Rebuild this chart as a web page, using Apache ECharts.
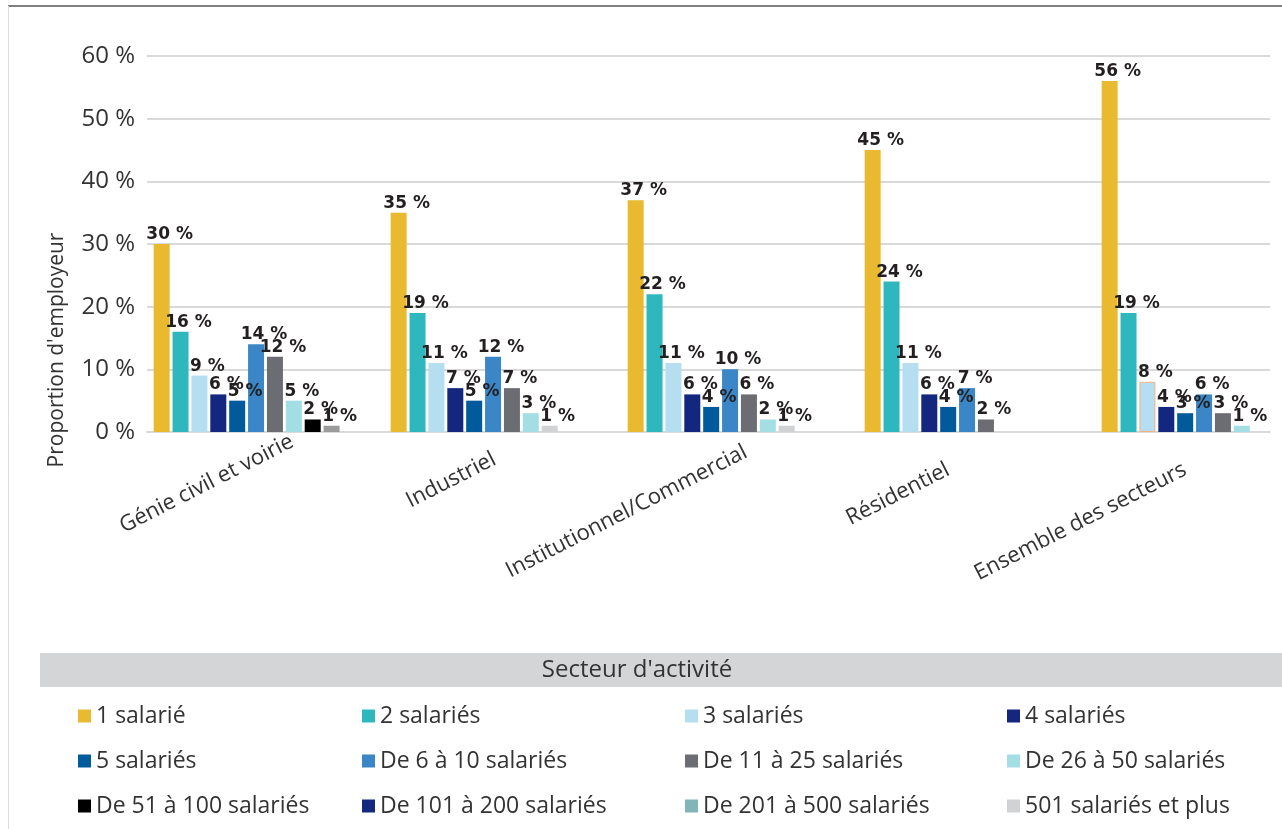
<!DOCTYPE html>
<html>
<head>
<meta charset="utf-8">
<script src="https://cdn.jsdelivr.net/npm/echarts@6/dist/echarts.min.js"></script>
<style>
  html, body { margin: 0; padding: 0; background: #ffffff; }
  #chart { width: 1282px; height: 829px; }
</style>
</head>
<body>
<div id="chart"></div>
<script>
// ---- Data ----
const categories = ['Génie civil et voirie', 'Industriel', 'Institutionnel/Commercial', 'Résidentiel', 'Ensemble des secteurs'];
const seriesNames = ['1 salarié', '2 salariés', '3 salariés', '4 salariés', '5 salariés', 'De 6 à 10 salariés',
  'De 11 à 25 salariés', 'De 26 à 50 salariés', 'De 51 à 100 salariés', 'De 101 à 200 salariés',
  'De 201 à 500 salariés', '501 salariés et plus'];
const sal1 = [30, 35, 37, 45, 56];
const sal2 = [16, 19, 22, 24, 19];
const sal3 = [9, 11, 11, 11, 8];
const sal4 = [6, 7, 6, 6, 4];
const sal5 = [5, 5, 4, 4, 3];
const sal6to10 = [14, 12, 10, 7, 6];
const sal11to25 = [12, 7, 6, 2, 3];
const sal26to50 = [5, 3, 2, null, 1];
const sal51to100 = [2, null, null, null, null];
const sal101to200 = [null, null, null, null, null];
const sal201to500 = [null, null, null, null, null];
const sal501plus = [1, 1, 1, null, null];
const yTickValues = [0, 10, 20, 30, 40, 50, 60];

const allSeries = [sal1, sal2, sal3, sal4, sal5, sal6to10, sal11to25, sal26to50, sal51to100, sal101to200, sal201to500, sal501plus];

// ---- Styles ----
const colors = ['#E9B92F', '#2EB8BE', '#B5DFF0', '#13277E', '#005A9C', '#3B86C6',
  '#6B6D72', '#A2DEE4', '#000000', '#14287F', '#82B5BA', '#D1D2D4'];
// point-specific style tweaks seen in the picture: [seriesIndex, categoryIndex, itemStyle]
const pointStyles = [
  [11, 0, { color: '#9B9B9B' }],
  [2, 4, { borderColor: '#F4B183', borderWidth: 1 }]
];
// per-label nudge (text padding) for the rotated category labels
const catLabelPadding = [[20, -30, 0, 0], [0, 9, 0, 0], [0, -7, 0, 0], [0, 32, 0, 0], [0, 32, 0, 0]];

function styleFor(s, c) {
  let st = { color: colors[s] };
  pointStyles.forEach(p => { if (p[0] === s && p[1] === c) st = Object.assign(st, p[2]); });
  return st;
}

// Bars are packed inside each category (missing classes leave no hole)
const nSlots = seriesNames.length;
const slotData = [];
for (let k = 0; k < nSlots; k++) slotData.push(categories.map(() => null));
categories.forEach((cat, c) => {
  let k = 0;
  allSeries.forEach((arr, s) => {
    if (arr[c] !== null && arr[c] !== undefined) {
      slotData[k][c] = { value: arr[c], itemStyle: styleFor(s, c) };
      k++;
    }
  });
});

const font = 'Open Sans';
const txt = '#333333';

const barSeries = slotData.map((d, k) => ({
  type: 'bar',
  name: 'slot' + k,
  xAxisIndex: 0,
  yAxisIndex: 0,
  data: d,
  barWidth: 16,
  barGap: '18%',
  silent: true,
  label: {
    show: true,
    position: 'top',
    distance: 1,
    offset: [8, 0],
    formatter: p => p.value + ' %',
    fontFamily: 'DejaVu Sans',
    fontWeight: 'bold',
    fontSize: 17,
    color: '#231F20'
  }
}));

const legendSeries = seriesNames.map((n, s) => ({
  type: 'bar',
  name: n,
  xAxisIndex: 1,
  yAxisIndex: 1,
  data: [],
  itemStyle: { color: colors[s] }
}));

const legendCols = [73, 357, 680, 1002];
const legends = legendCols.map((x, col) => ({
  orient: 'vertical',
  left: x,
  top: 699,
  selectedMode: false,
  icon: 'rect',
  itemWidth: 13,
  itemHeight: 13,
  itemGap: 21,
  data: [seriesNames[col], seriesNames[col + 4], seriesNames[col + 8]],
  textStyle: { fontFamily: font, fontSize: 23, color: txt, lineHeight: 24 }
}));

const chart = echarts.init(document.getElementById('chart'), null, { renderer: 'canvas' });
chart.setOption({
  animation: false,
  backgroundColor: '#ffffff',
  grid: [
    { left: 147, top: 56, width: 1185, height: 376, containLabel: false, outerBoundsMode: 'none' },
    { left: 147, top: 56, right: 12, height: 376, containLabel: false, outerBoundsMode: 'none' }
  ],
  xAxis: [
    {
      type: 'category', gridIndex: 0,
      data: categories.map((c, i) => ({ value: c, textStyle: { padding: catLabelPadding[i] } })),
      axisLine: { show: false }, axisTick: { show: false },
      axisLabel: { rotate: 27, margin: 22, fontFamily: font, fontSize: 22, color: txt, interval: 0 }
    },
    {
      type: 'category', gridIndex: 1, data: categories,
      axisLine: { show: true, lineStyle: { color: '#D9D9D9', width: 2 } },
      axisTick: { show: false }, axisLabel: { show: false }
    }
  ],
  yAxis: [
    {
      type: 'value', gridIndex: 0, min: 0, max: 60, interval: 10,
      axisLabel: { show: false }, splitLine: { show: false }, axisLine: { show: false }
    },
    {
      type: 'value', gridIndex: 1, min: yTickValues[0], max: yTickValues[yTickValues.length - 1], interval: 10,
      axisLine: { show: false }, axisTick: { show: false },
      axisLabel: { formatter: v => v + ' %', fontFamily: font, fontSize: 24, color: txt, margin: 12 },
      splitLine: { lineStyle: { color: '#D9D9D9', width: 2 } }
    }
  ],
  legend: legends,
  series: barSeries.concat(legendSeries),
  graphic: [
    { type: 'line', shape: { x1: 8, y1: 6, x2: 1282, y2: 6 }, style: { stroke: '#808080', lineWidth: 2 } },
    { type: 'line', shape: { x1: 8.5, y1: 6, x2: 8.5, y2: 829 }, style: { stroke: '#DDDDDD', lineWidth: 1 } },
    {
      type: 'text', x: 57, y: 350, rotation: Math.PI / 2,
      style: { text: "Proportion d'employeur", font: '21px "Open Sans"', fill: txt, align: 'center', verticalAlign: 'middle' }
    },
    { type: 'rect', shape: { x: 40, y: 653, width: 1242, height: 34 }, style: { fill: '#D4D5D7' } },
    {
      type: 'text', x: 637, y: 670,
      style: { text: "Secteur d'activité", font: '24px "Open Sans"', fill: txt, align: 'center', verticalAlign: 'middle' }
    }
  ]
});
</script>
</body>
</html>
